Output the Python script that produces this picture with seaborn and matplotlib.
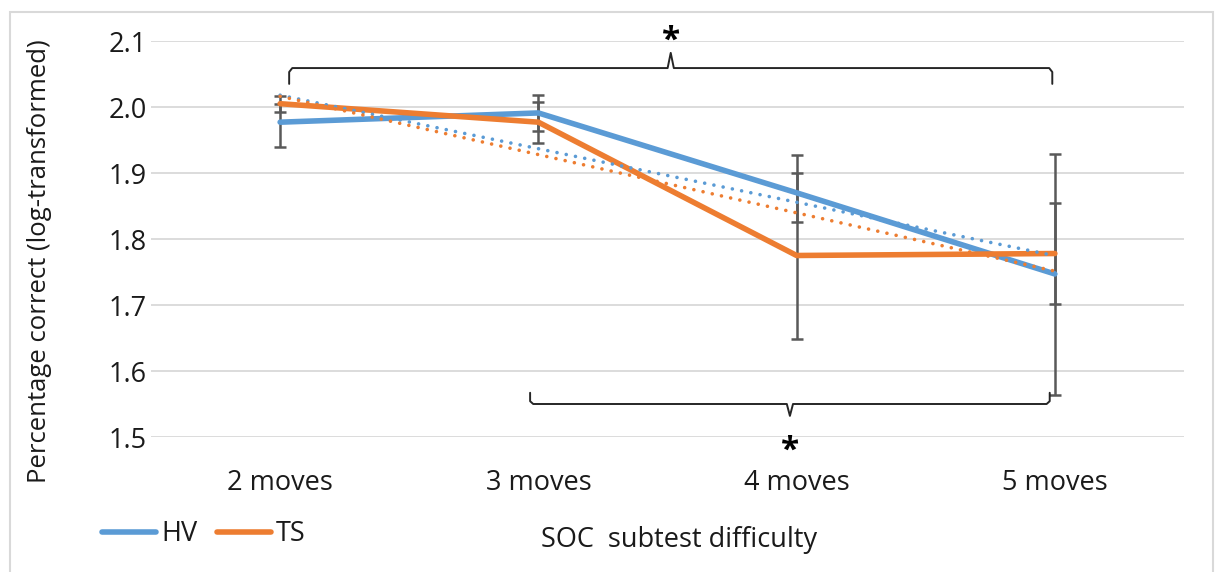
import numpy as np
import pandas as pd
import matplotlib
matplotlib.use("Agg")
import matplotlib.pyplot as plt
from matplotlib.patches import Rectangle
import seaborn as sns

# ---- data ----
categories = ["2 moves", "3 moves", "4 moves", "5 moves"]
hv_values = [1.977, 1.991, 1.870, 1.747]
ts_values = [2.005, 1.977, 1.775, 1.778]
hv_err_lo = [0.038, 0.027, 0.044, 0.183]
hv_err_hi = [0.028, 0.027, 0.030, 0.182]
ts_err_lo = [0.012, 0.031, 0.127, 0.077]
ts_err_hi = [0.012, 0.031, 0.152, 0.077]
y_ticks = [1.5, 1.6, 1.7, 1.8, 1.9, 2.0, 2.1]
series_names = ["HV", "TS"]

BLUE = "#5B9BD5"
ORANGE = "#ED7D31"
GRAY = "#595959"
TXT = "#1a1a1a"
FS = 19.5

sns.set_theme(style="white")
plt.rcParams["font.family"] = ["Open Sans", "DejaVu Sans"]

pos = np.arange(len(categories))
df = pd.DataFrame({
    "pos": np.concatenate([pos, pos]),
    "value": hv_values + ts_values,
    "group": [series_names[0]] * len(pos) + [series_names[1]] * len(pos),
})

fig = plt.figure(figsize=(12.15, 5.72), dpi=100)
ax = fig.add_axes([151 / 1215, 1 - 437 / 572, (1184 - 151) / 1215, (437 - 41) / 572])

# gridlines
for t in y_ticks:
    ax.axhline(t, color="#D9D9D9", linewidth=1.3, zorder=0)

# error bars
ax.errorbar(pos, hv_values, yerr=[hv_err_lo, hv_err_hi], fmt="none", ecolor=GRAY,
            elinewidth=1.8, capsize=4, capthick=1.8, zorder=2)
ax.errorbar(pos, ts_values, yerr=[ts_err_lo, ts_err_hi], fmt="none", ecolor=GRAY,
            elinewidth=1.8, capsize=4, capthick=1.8, zorder=2)

# main lines
sns.lineplot(data=df, x="pos", y="value", hue="group", palette=[BLUE, ORANGE],
             linewidth=4, ax=ax, zorder=3, legend=True)
for ln in ax.lines[-2:]:
    ln.set_solid_capstyle("round")
    ln.set_solid_joinstyle("round")

# linear trendlines (dotted)
for vals, col in [(hv_values, BLUE), (ts_values, ORANGE)]:
    sns.regplot(x=pos, y=np.array(vals), scatter=False, ci=None, ax=ax, color=col,
                line_kws={"linestyle": (0, (0.01, 2.6)), "linewidth": 2.6,
                          "dash_capstyle": "round", "zorder": 4})

ax.set_xlim(-0.5, 3.5)
ax.set_ylim(1.5, 2.1)
ax.set_xticks(pos)
ax.set_xticklabels(categories, fontsize=FS, color=TXT)
ax.set_yticks(y_ticks)
ax.set_yticklabels([f"{t:.1f}" for t in y_ticks], fontsize=FS, color=TXT)
ax.tick_params(axis="both", length=0)
ax.tick_params(axis="x", pad=23)
ax.tick_params(axis="y", pad=3)
ax.set_xlabel("")
ax.set_ylabel("")
for s in ax.spines.values():
    s.set_visible(False)

fig.text(40 / 1215, 1 - 261 / 572, "Percentage correct (log-transformed)", rotation=90,
         ha="center", va="center", fontsize=18.5, color=TXT)
fig.text(679 / 1215, 1 - 540 / 572, "SOC  subtest difficulty", ha="center", va="center",
         fontsize=FS, color=TXT)

# legend
handles, labels = ax.get_legend_handles_labels()
ax.legend(handles[:2], labels[:2], loc="center left", bbox_to_anchor=(83 / 1215, 1 - 534 / 572),
          bbox_transform=fig.transFigure, ncol=2, frameon=False, fontsize=FS,
          handlelength=2.0, handletextpad=0.2, columnspacing=0.7, labelcolor=TXT,
          borderpad=0.2)

# significance brackets
def bracket(x0, x1, yh, yend, ytip, dx=0.012):
    xm = (x0 + x1) / 2
    xs = [x0, x0, x0 + dx, xm - dx, xm, xm + dx, x1 - dx, x1, x1]
    r = (yh - yend) * 0.25
    ys = [yend, yh - r, yh, yh, ytip, yh, yh, yh - r, yend]
    ax.plot(xs, ys, color="#262626", linewidth=1.4, clip_on=False, zorder=5,
            solid_joinstyle="round")
    return xm

xm_top = bracket(0.035, 2.99, 2.059, 2.035, 2.082)
ax.text(xm_top, 2.100, "*", ha="center", va="center", fontsize=24, fontweight="bold",
        color="#000000", clip_on=False)
xm_bot = bracket(0.968, 2.98, 1.550, 1.567, 1.532)
ax.text(xm_bot, 1.479, "*", ha="center", va="center", fontsize=24, fontweight="bold",
        color="#000000", clip_on=False)

# outer border
fig.patches.append(Rectangle((10 / 1215, -0.02), 1203 / 1215, 1 - 12 / 572 + 0.02,
                             transform=fig.transFigure, fill=False,
                             edgecolor="#D9D9D9", linewidth=1.5))

fig.savefig("out.png", dpi=100)
